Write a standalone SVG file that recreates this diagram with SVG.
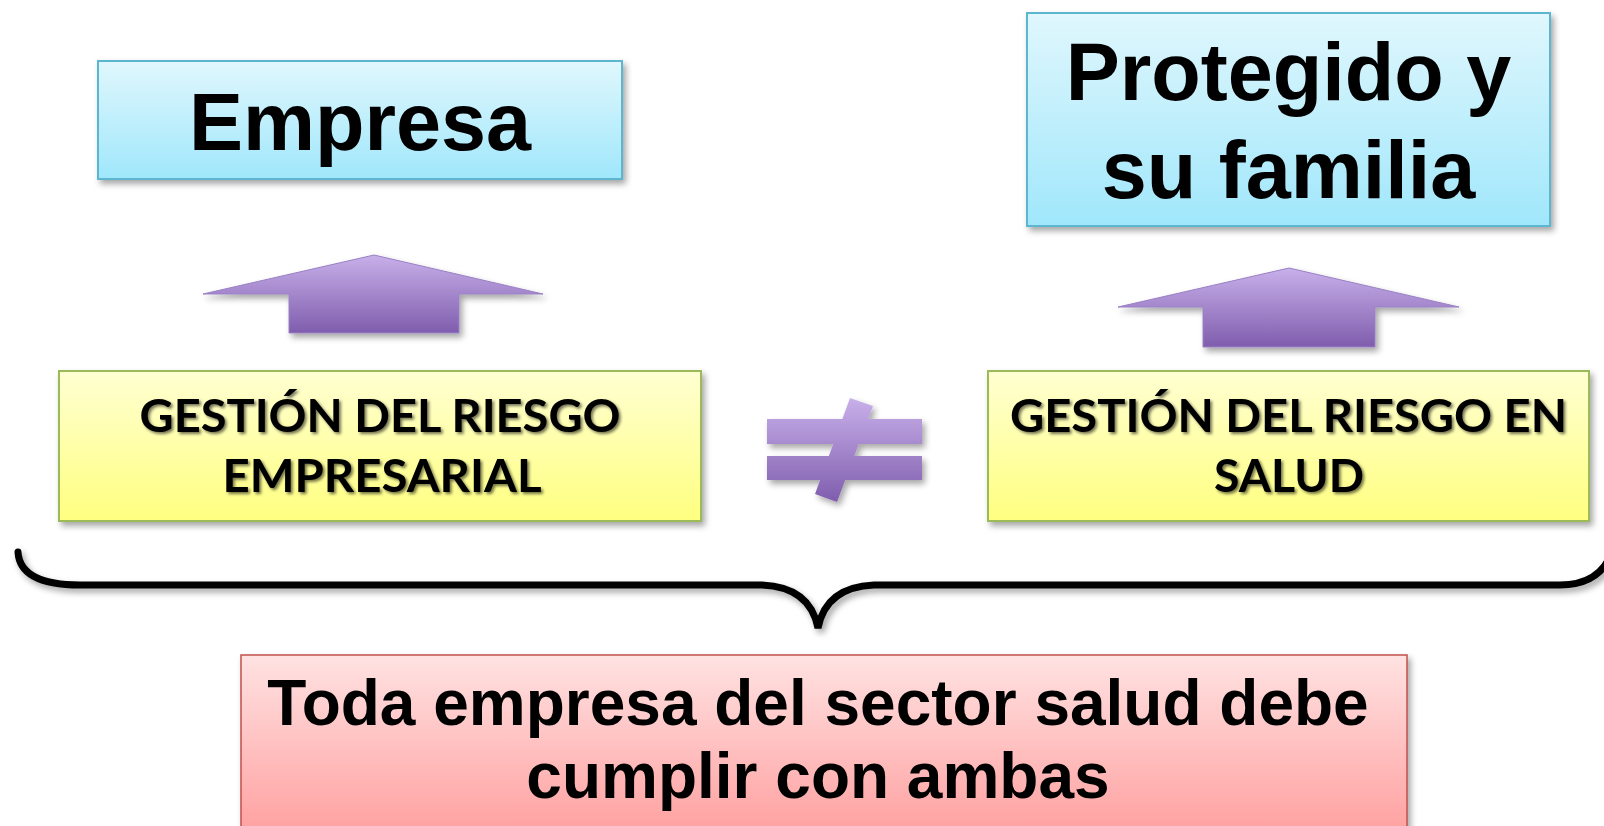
<svg xmlns="http://www.w3.org/2000/svg" width="1604" height="826" viewBox="0 0 1604 826">
<style>
  .title{font-family:"Liberation Sans",Arial,sans-serif;font-weight:bold;font-size:81px;fill:#000;text-anchor:middle}
  .gest{font-family:Lato,"Open Sans",sans-serif;font-weight:bold;font-size:46px;fill:#000;text-anchor:middle}
  .concl{font-family:"Liberation Sans",Arial,sans-serif;font-weight:bold;font-size:64px;fill:#000;text-anchor:middle}
  .blue{fill:url(#gBlue);stroke:#5cb6cf;stroke-width:2}
  .yellow{fill:url(#gYellow);stroke:#9bbb59;stroke-width:2}
  .red{fill:url(#gRed);stroke:#c0504d;stroke-width:1.5}
  .arrow{fill:url(#gPurple);stroke:#9a80c4;stroke-width:1}
</style>
<defs>
  <linearGradient id="gBlue" x1="0" y1="0" x2="0" y2="1">
    <stop offset="0" stop-color="#e0f7fd"/>
    <stop offset="1" stop-color="#a0e7fb"/>
  </linearGradient>
  <linearGradient id="gYellow" x1="0" y1="0" x2="0" y2="1">
    <stop offset="0" stop-color="#ffffd2"/>
    <stop offset="1" stop-color="#ffff80"/>
  </linearGradient>
  <linearGradient id="gRed" x1="0" y1="0" x2="0" y2="1">
    <stop offset="0" stop-color="#ffe2e2"/>
    <stop offset="1" stop-color="#ff9c9c"/>
  </linearGradient>
  <linearGradient id="gPurple" x1="0" y1="0" x2="0" y2="1">
    <stop offset="0" stop-color="#c8b0ea"/>
    <stop offset="1" stop-color="#7f5dad"/>
  </linearGradient>
  <linearGradient id="gNeq" gradientUnits="userSpaceOnUse" x1="0" y1="398" x2="0" y2="502">
    <stop offset="0" stop-color="#c8b0ea"/>
    <stop offset="1" stop-color="#7f5dad"/>
  </linearGradient>
  <filter id="shadow" x="-10%" y="-10%" width="125%" height="130%">
    <feDropShadow dx="3" dy="4" stdDeviation="3" flood-color="#000" flood-opacity="0.35"/>
  </filter>
  <filter id="tshadow" x="-5%" y="-20%" width="110%" height="150%">
    <feDropShadow dx="2" dy="2" stdDeviation="1.5" flood-color="#000" flood-opacity="0.55"/>
  </filter>
</defs>
<rect width="1604" height="826" fill="#fff"/>

<g id="node-empresa">
  <rect class="blue" x="98" y="61" width="524" height="118" filter="url(#shadow)"/>
  <text class="title" x="360" y="150">Empresa</text>
</g>

<g id="node-protegido">
  <rect class="blue" x="1027" y="13" width="523" height="213" filter="url(#shadow)"/>
  <text class="title" x="1288.5" y="100">Protegido y</text>
  <text class="title" x="1288.5" y="198">su familia</text>
</g>

<g id="node-gestion-empresarial">
  <rect class="yellow" x="59" y="371" width="642" height="150" filter="url(#shadow)"/>
  <g filter="url(#tshadow)">
    <text class="gest" x="380" y="432" textLength="481" lengthAdjust="spacingAndGlyphs">GESTIÓN DEL RIESGO</text>
    <text class="gest" x="382" y="492" textLength="319" lengthAdjust="spacingAndGlyphs">EMPRESARIAL</text>
  </g>
</g>

<g id="node-gestion-salud">
  <rect class="yellow" x="988" y="371" width="601" height="150" filter="url(#shadow)"/>
  <g filter="url(#tshadow)">
    <text class="gest" x="1288.5" y="432" textLength="557" lengthAdjust="spacingAndGlyphs">GESTIÓN DEL RIESGO EN</text>
    <text class="gest" x="1289" y="492" textLength="150" lengthAdjust="spacingAndGlyphs">SALUD</text>
  </g>
</g>

<g id="node-conclusion">
  <rect class="red" x="241" y="655" width="1166" height="190" filter="url(#shadow)"/>
  <text class="concl" x="818" y="725">Toda empresa del sector salud debe</text>
  <text class="concl" x="818" y="798">cumplir con ambas</text>
</g>

<g id="symbol-neq" filter="url(#shadow)">
  <path fill="url(#gNeq)" stroke="none" d="M767 419 H922 V444 H767 Z M767 456 H922 V480 H767 Z M850 398 L873 406 L837 502 L815 494 Z"/>
</g>

<g id="connectors">
  <path class="arrow" filter="url(#shadow)" d="M374 255 L543 294 L459 294 L459 333 L289 333 L289 294 L203 294 Z"/>
  <path class="arrow" filter="url(#shadow)" d="M1289 268 L1459 307 L1375 307 L1375 347 L1203 347 L1203 307 L1118 307 Z"/>
  <path fill="none" stroke="#000" stroke-width="7" stroke-linecap="round" filter="url(#shadow)"
        d="M18 552 Q20 585 80 585 L762 585 Q810 587 818 628 Q826 587 874 585 L1560 585 Q1600 585 1612 552"/>
</g>
</svg>
